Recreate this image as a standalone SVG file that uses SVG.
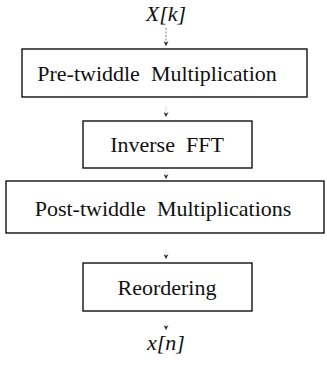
<svg xmlns="http://www.w3.org/2000/svg" width="327" height="366" viewBox="0 0 327 366">
  <style>
    .box { fill: #ffffff; stroke: #111111; stroke-width: 1.4; }
    text { font-size: 22px; fill: #111111; text-anchor: middle; }
    .sig { font-style: italic; }
    .wire { stroke: #555555; stroke-width: 0.8; fill: none; }
    .wire-faint { stroke: #cccccc; stroke-width: 0.6; fill: none; }
  </style>
  <defs>
    <marker id="head" viewBox="0 0 6 6" refX="6" refY="3" markerWidth="5" markerHeight="5" markerUnits="userSpaceOnUse" orient="auto">
      <path d="M0,0 L6,3 L0,6 L2,3 Z" fill="#222222"/>
    </marker>
  </defs>
  <rect width="327" height="366" fill="#ffffff"/>

  <g id="connectors">
    <line class="wire" x1="166" y1="28" x2="166" y2="46" stroke-dasharray="2 1.5" marker-end="url(#head)"/>
    <line class="wire-faint" x1="166" y1="106" x2="166" y2="117" marker-end="url(#head)"/>
    <line class="wire-faint" x1="166" y1="171" x2="166" y2="179" marker-end="url(#head)"/>
    <line class="wire-faint" x1="166" y1="250" x2="166" y2="259" marker-end="url(#head)"/>
    <line class="wire-faint" x1="166" y1="321" x2="166" y2="330" marker-end="url(#head)"/>
  </g>

  <g id="input">
    <text class="sig" x="166" y="21" font-family="Liberation Serif, DejaVu Serif, serif">X[k]</text>
  </g>

  <g id="pre-twiddle">
    <rect class="box" x="22" y="49" width="285" height="48"/>
    <text x="157" y="81" font-family="Liberation Serif, DejaVu Serif, serif" xml:space="preserve">Pre-twiddle  Multiplication</text>
  </g>

  <g id="inverse-fft">
    <rect class="box" x="83" y="121" width="169" height="47"/>
    <text x="167" y="152" font-family="Liberation Serif, DejaVu Serif, serif" xml:space="preserve">Inverse  FFT</text>
  </g>

  <g id="post-twiddle">
    <rect class="box" x="6" y="181" width="318" height="52"/>
    <text x="163" y="216" font-family="Liberation Serif, DejaVu Serif, serif" xml:space="preserve">Post-twiddle  Multiplications</text>
  </g>

  <g id="reordering">
    <rect class="box" x="83" y="263" width="169" height="48"/>
    <text x="167" y="295" font-family="Liberation Serif, DejaVu Serif, serif">Reordering</text>
  </g>

  <g id="output">
    <text class="sig" x="166" y="350" font-family="Liberation Serif, DejaVu Serif, serif">x[n]</text>
  </g>
</svg>
